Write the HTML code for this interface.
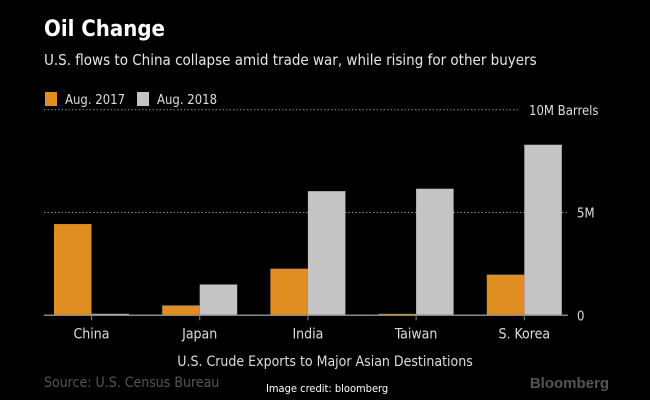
<!DOCTYPE html>
<html><head><meta charset="utf-8"><style>
html,body{margin:0;padding:0;background:#000;overflow:hidden;}
body{width:650px;height:400px;overflow:hidden;font-family:"DejaVu Sans Condensed","Liberation Sans Narrow","Liberation Sans",sans-serif;}
svg{display:block;}
</style></head><body>
<svg id="chart" width="650" height="400" xmlns="http://www.w3.org/2000/svg" font-family="DejaVu Sans Condensed, Liberation Sans, sans-serif">
<text x="44" y="36" fill="#fff" font-size="22" font-weight="bold">Oil Change</text>
<text x="44" y="65" fill="#e6e6e6" font-size="15">U.S. flows to China collapse amid trade war, while rising for other buyers</text>
<g>
<rect x="45" y="92" width="12" height="14" fill="#e08e22"/>
<text x="65" y="104" fill="#ddd" font-size="13">Aug. 2017</text>
<rect x="137" y="92" width="12" height="14" fill="#c4c4c4"/>
<text x="157" y="104" fill="#ddd" font-size="13">Aug. 2018</text>
</g>
<g id="plot"></g>
<text x="325" y="366" text-anchor="middle" fill="#ddd" font-size="14">U.S. Crude Exports to Major Asian Destinations</text>
<text x="44" y="387" fill="#555" font-size="14">Source: U.S. Census Bureau</text>
<text x="266" y="392" fill="#fff" font-size="11">Image credit: bloomberg</text>
<text x="609" y="388" text-anchor="end" fill="#555" font-size="15" font-weight="bold" font-family="Liberation Sans, sans-serif">Bloomberg</text>
</svg>
<script>
const categories=["China","Japan","India","Taiwan","S. Korea"];
const values2017=[4.44,0.48,2.27,0.05,1.98];
const values2018=[0.05,1.5,6.04,6.16,8.3];
const tickValues=[0,5,10];
const tickLabels=["0","5M","10M Barrels"];
const NS="http://www.w3.org/2000/svg";
const g=document.getElementById('plot');
const x0=44,x1=568,y0=315.3,pxPerM=20.55,groupW=108.2,barW=37.5;
function y(v){return y0-v*pxPerM;}
function gx(i){return x0+10+i*groupW;}
function mk(tag,attrs){const e=document.createElementNS(NS,tag);for(const k in attrs)e.setAttribute(k,attrs[k]);g.appendChild(e);return e;}
tickValues.forEach((t,i)=>{
 const top=i==2;
 if(t>0){const l=mk('line',{x1:x0,x2:top?518:x1,y1:y(t),y2:y(t),stroke:'#888','stroke-width':1,'stroke-dasharray':'1.5,2'});
 
 }
 const tx=mk('text',{x:top?529:577,y:y(t)+5,fill:'#ddd','font-size':13});
 tx.textContent=tickLabels[i];
 
 
});
categories.forEach((c,i)=>{
 const bx=gx(i);
 const h1=Math.max(values2017[i]*pxPerM,1.5),h2=Math.max(values2018[i]*pxPerM,1.5);
 const r1=mk('rect',{x:bx,y:y0-h1,width:barW,height:h1,fill:'#e08e22'});
 
 
 const r2=mk('rect',{x:bx+barW,y:y0-h2,width:barW,height:h2,fill:'#c4c4c4'});
 
 
 const tk=mk('line',{x1:bx+barW,x2:bx+barW,y1:y0,y2:y0+5,stroke:'#888'});
 
 
 const lb=mk('text',{x:bx+barW,y:y0+23,fill:'#ddd','font-size':14,'text-anchor':'middle'});
 lb.textContent=c;
 
 
});
const ax=mk('line',{x1:x0,x2:x1,y1:y0,y2:y0,stroke:'#888','stroke-width':1.5});


</script>
</body></html>
